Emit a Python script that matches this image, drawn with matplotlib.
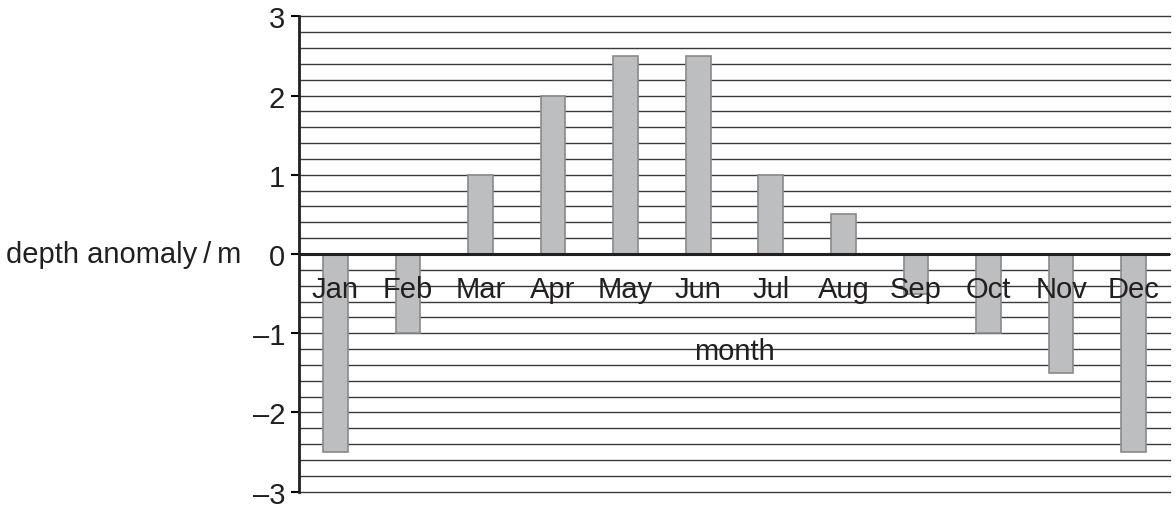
import matplotlib.pyplot as plt
import numpy as np

plt.rcParams['font.family'] = ['Liberation Sans', 'DejaVu Sans']

months = ['Jan', 'Feb', 'Mar', 'Apr', 'May', 'Jun',
          'Jul', 'Aug', 'Sep', 'Oct', 'Nov', 'Dec']
anomaly = [-2.5, -1, 1, 2, 2.5, 2.5, 1, 0.5, -0.5, -1, -1.5, -2.5]
yticks = [-3, -2, -1, 0, 1, 2, 3]
ytick_labels = ['\u20133', '\u20132', '\u20131', '0', '1', '2', '3']

fig = plt.figure(figsize=(11.76, 5.1), dpi=100)
ax = fig.add_axes([0.2543, 0.0343, 0.7406, 0.9314])

x = np.arange(len(months))
ax.bar(x, anomaly, width=0.34, color='#bdbec0', edgecolor='#8a8a8c',
       linewidth=1.2, zorder=3)

# fine grid every 0.2
for g in np.arange(-3, 3.01, 0.2):
    ax.axhline(g, color='#3a3a3a', linewidth=1.0, zorder=1, clip_on=False)
ax.axhline(0, color='#231f20', linewidth=2.2, zorder=4)

ax.set_xlim(-0.5, len(months) - 0.5)
ax.set_ylim(-3, 3)
ax.set_yticks(yticks)
ax.set_yticklabels(ytick_labels, fontsize=21, color='#231f20')
ax.tick_params(axis='y', direction='out', length=6, width=1.5, pad=4)
ax.set_xticks([])

for s in ['top', 'right', 'bottom']:
    ax.spines[s].set_visible(False)
ax.spines['left'].set_linewidth(2)
ax.spines['left'].set_color('#231f20')

for xi, m in zip(x, months):
    ax.text(xi, -0.44, m, ha='center', va='center', fontsize=21,
            color='#231f20', zorder=5)

ax.text(5.5, -1.23, 'month', ha='center', va='center', fontsize=21,
        color='#231f20', zorder=5)
fig.text(0.1055, 1 - 255 / 510, 'depth anomaly\u2009/\u2009m', ha='center',
         va='center', fontsize=21, color='#231f20')

fig.savefig('out.png', dpi=100)
